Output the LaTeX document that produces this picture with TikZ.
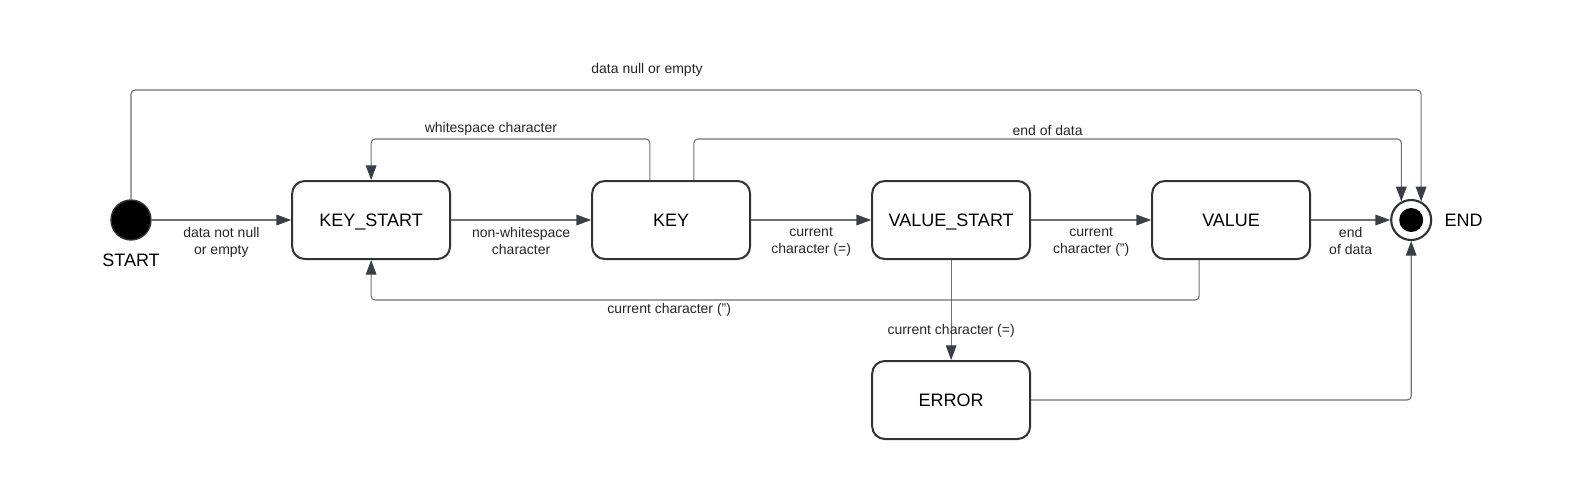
\documentclass[tikz,border=0pt]{standalone}
\usepackage{fontspec}
\setmainfont{Liberation Sans}
\usepackage{tikz}
\usetikzlibrary{arrows.meta,positioning}
\definecolor{edgegray}{HTML}{707070}
\definecolor{tipgray}{HTML}{3B3E47}
\definecolor{boxline}{HTML}{303236}

\begin{document}
\begin{tikzpicture}[
  block/.style={rectangle, draw=boxline, rounded corners=9.5pt, line width=1.5pt,
                minimum width=118.5pt, minimum height=58.5pt, fill=white,
                text height=9.7pt, text depth=0pt,
                text centered, font=\fontsize{13.5}{16}\selectfont},
  startdot/.style={circle, draw=boxline, line width=1pt, fill=black,
                   minimum size=30pt, inner sep=0pt},
  enddot/.style={circle, draw=boxline, line width=1.6pt, fill=white,
                 minimum size=30pt, inner sep=0pt,
                 path picture={\fill[black] (path picture bounding box.center) circle (9pt);}},
  arrow/.style={-{Triangle[length=11pt, width=8pt, color=tipgray]}, line width=0.8pt,
                color=edgegray, rounded corners=3pt},
  note/.style={font=\fontsize{10.5}{12.6}\selectfont, text=black!85, inner sep=2pt, align=center},
  tag/.style={font=\fontsize{13.5}{16}\selectfont, inner sep=2pt},
  node distance=105pt
]
  \useasboundingbox (-98.25pt,-195pt) rectangle (1095pt,165pt);

  \node[startdot] (start) {};
  \node[tag, below=8pt of start] (startlbl) {START};
  \node[block, right=104.6pt of start] (keystart) {KEY\_START};
  \node[block, right=105pt of keystart] (key) {KEY};
  \node[block, right=90pt of key] (valstart) {VALUE\_START};
  \node[block, right=90pt of valstart] (value) {VALUE};
  \node[enddot, right=59.25pt of value] (fin) {};
  \node[tag, right=7pt of fin] (finlbl) {END};
  \node[block, below=75pt of valstart] (error) {ERROR};

  \draw[arrow] (start) -- node[note, below=3pt] {data not null\\or empty} (keystart);
  \draw[arrow] (keystart) -- node[note, below=3pt] {non-whitespace\\character} (key);
  \draw[arrow] (key) -- node[note, below=3pt] {current\\character (=)} (valstart);
  \draw[arrow] (valstart) -- node[note, below=3pt] {current\\character (")} (value);
  \draw[arrow] (value) -- node[note, below=3pt] {end\\of data} (fin);

  \draw[arrow] (start.north) -- ++(0,82pt) -| node[note, pos=0.2, above=8pt] {data null or empty} (fin.62);
  \draw[arrow] ([xshift=-16pt]key.north) -- ++(0,30.75pt) -| node[note, pos=0.285, above] {whitespace character} (keystart.north);
  \draw[arrow] ([xshift=17pt]key.north) -- ++(0,30.75pt) -| node[note, pos=0.25, above] {end of data} (fin.118);
  \draw[arrow] ([xshift=-24pt]value.south) -- ++(0,-30pt) -| node[note, pos=0.32, below] {current character (")} (keystart.south);
  \draw[arrow] (valstart) -- node[note, pos=0.71] {current character (=)} (error);
  \draw[arrow] (error) -| (fin);
\end{tikzpicture}
\end{document}
